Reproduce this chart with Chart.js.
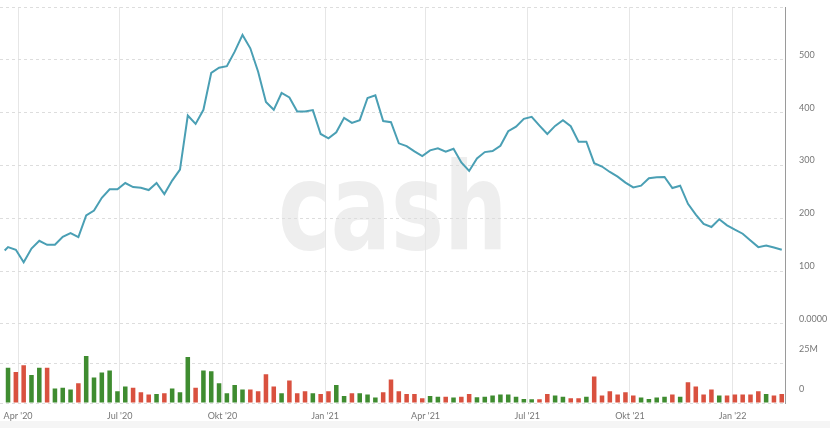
<!DOCTYPE html>
<html><head><meta charset="utf-8">
<script src="https://cdn.jsdelivr.net/npm/chart.js@4.4.1/dist/chart.umd.min.js"></script>
<style>
html,body{margin:0;padding:0;background:#fff;}
#wrap{position:relative;width:830px;height:428px;overflow:hidden;}
#wm{position:absolute;left:278px;top:146px;font-family:"DejaVu Sans";font-weight:bold;font-size:122px;line-height:1;color:#eeeeee;transform-origin:0 0;transform:scaleX(0.73);white-space:nowrap;}
#strip{position:absolute;left:0;top:421px;width:830px;height:7px;background:#f5f5f5;}
canvas{position:absolute;left:0;top:0;}
</style></head><body>
<div id="wrap"><div id="wm">cash</div><div id="strip"></div><canvas id="c" width="830" height="428"></canvas></div>
<script>
// weekly dates (Mondays)
const weeks = ['2020-03-23','2020-03-30','2020-04-06','2020-04-13','2020-04-20','2020-04-27','2020-05-04','2020-05-11','2020-05-18','2020-05-25',
'2020-06-01','2020-06-08','2020-06-15','2020-06-22','2020-06-29','2020-07-06','2020-07-13','2020-07-20','2020-07-27','2020-08-03',
'2020-08-10','2020-08-17','2020-08-24','2020-08-31','2020-09-07','2020-09-14','2020-09-21','2020-09-28','2020-10-05','2020-10-12',
'2020-10-19','2020-10-26','2020-11-02','2020-11-09','2020-11-16','2020-11-23','2020-11-30','2020-12-07','2020-12-14','2020-12-21',
'2020-12-28','2021-01-04','2021-01-11','2021-01-18','2021-01-25','2021-02-01','2021-02-08','2021-02-15','2021-02-22','2021-03-01',
'2021-03-08','2021-03-15','2021-03-22','2021-03-29','2021-04-05','2021-04-12','2021-04-19','2021-04-26','2021-05-03','2021-05-10',
'2021-05-17','2021-05-24','2021-05-31','2021-06-07','2021-06-14','2021-06-21','2021-06-28','2021-07-05','2021-07-12','2021-07-19',
'2021-07-26','2021-08-02','2021-08-09','2021-08-16','2021-08-23','2021-08-30','2021-09-06','2021-09-13','2021-09-20','2021-09-27',
'2021-10-04','2021-10-11','2021-10-18','2021-10-25','2021-11-01','2021-11-08','2021-11-15','2021-11-22','2021-11-29','2021-12-06',
'2021-12-13','2021-12-20','2021-12-27','2022-01-03','2022-01-10','2022-01-17','2022-01-24','2022-01-31','2022-02-07','2022-02-14'];
const firstLineDate = '2020-03-20';
const firstLinePrice = 138.7;
const prices = [145.2,140.1,116.6,142.6,157.3,149.6,149.6,164.9,171.9,164.3,
205.5,214.5,238.7,254.6,254.6,266.6,259,257.8,253.3,266.6,
245.6,271.2,292.1,394.5,378.6,405.3,475.3,484.9,488,515.4,
547.2,521.8,477.3,420,405.3,437.2,428.8,402.1,402.1,404.8,
359.5,351.3,362.8,390.1,380.5,385.7,427.7,432.6,384,381.9,
341.8,336.6,326.5,317.6,328.4,332.2,325.8,331.5,305.5,289.5,
313.2,325.2,327.1,337.2,364.7,373.5,388.2,392,375.4,359.5,
374.8,385.7,374.2,344.8,344.8,304.2,297.9,287.6,278.8,267.4,
258.4,261.6,275.6,277.5,278.1,257.1,261.6,227.3,206.9,189.1,
183.4,197.9,186.5,178.2,170.6,157.8,145.2,148.3,144.5,140.1];
// weekly volume in millions
const volumes = [22.2,19.5,23.9,17.6,22.2,22.2,9.1,9.7,8.5,12.5,
29.6,16.1,19.2,20.5,7.4,10.4,9.7,6.8,5.3,5.7,
6.1,9.1,6.8,29.0,9.7,20.5,20.1,12.5,6.1,11.4,
8.5,8.5,7.4,18.2,10.4,6.1,14.2,6.1,7.4,6.1,
5.7,7.4,11.4,4.4,6.1,6.1,5.3,3.4,6.8,14.8,
7.4,5.7,5.7,3.0,4.4,4.0,4.0,3.4,4.0,5.7,
3.6,4.0,4.7,5.3,5.3,4.0,2.5,2.3,2.3,5.7,
4.7,4.0,3.0,3.0,4.0,16.7,4.7,7.4,5.3,6.8,
4.7,3.4,2.5,3.4,4.0,5.3,4.0,13.1,10.4,5.3,
8.5,4.7,4.7,5.3,5.3,5.3,7.4,5.7,4.7,5.7];
// 1 = up week (green), 0 = down week (red)
const upWeek = [1,0,0,1,1,0,1,1,1,0,
1,1,1,1,1,1,0,0,0,1,
0,1,1,1,0,1,1,1,1,1,
1,0,0,0,0,1,0,0,0,1,
0,0,1,1,0,1,1,1,0,0,
0,0,0,0,1,1,0,1,0,0,
1,1,1,1,1,1,1,1,0,0,
1,1,0,0,1,0,0,0,0,0,
0,1,1,1,1,0,1,0,0,0,
0,1,0,0,0,0,0,1,0,0];
const tickDates = ['2020-04-01','2020-07-01','2020-10-01','2021-01-01','2021-04-01','2021-07-01','2021-10-01','2022-01-01'];
const tickLabels = ["Apr '20","Jul '20","Okt '20","Jan '21","Apr '21","Jul '21","Okt '21","Jan '22"];
const priceTicks = [0,100,200,300,400,500,600];
const priceTickLabels = ['0.0000','100','200','300','400','500',''];
const volumeTicks = [0,25];
const volumeTickLabels = ['0','25M'];

const base = Date.UTC(2020,3,1);
const day = s => { const p = s.split('-').map(Number); return (Date.UTC(p[0],p[1]-1,p[2]) - base) / 864e5; };
const tickDays = tickDates.map(day);

const lineData = [{x: day(firstLineDate), y: firstLinePrice}].concat(weeks.map((w,i)=>({x: day(w), y: prices[i]})));
const barData = weeks.map((w,i)=>({x: day(w), y: volumes[i]}));
const GREEN = '#3f8c30', RED = '#d9513f';
const barColors = upWeek.map(u => u ? GREEN : RED);

const labelFont = {family: 'Lato', size: 9};
const labelColor = '#777';
const fitY = s => { s.width = 45; s.paddingTop = 0; s.paddingBottom = 0; };

new Chart(document.getElementById('c'), {
  type: 'bar',
  data: {
    datasets: [
      {type: 'line', data: lineData, xAxisID: 'x', yAxisID: 'yP', borderColor: '#4a9fb4', borderWidth: 2, pointRadius: 0, tension: 0, fill: false},
      {type: 'bar', data: barData, xAxisID: 'x', yAxisID: 'yV', backgroundColor: barColors, borderWidth: 0, barPercentage: 0.58, categoryPercentage: 1}
    ]
  },
  options: {
    responsive: false,
    animation: false,
    events: [],
    layout: {padding: {top: 7, bottom: 6, left: 0, right: 0}},
    plugins: {legend: {display: false}, tooltip: {enabled: false}},
    scales: {
      x: {
        type: 'linear', position: 'bottom', offset: false,
        min: -16.2, max: 686.9,
        afterBuildTicks: s => { s.ticks = tickDays.map(v => ({value: v})); },
        afterFit: s => { s.paddingLeft = 0; s.paddingRight = 0; s.height = 19; },
        grid: {color: '#e6e6e6', drawTicks: false, offset: false},
        border: {display: false},
        ticks: {
          autoSkip: false, maxRotation: 0, padding: 8, font: labelFont, color: labelColor,
          callback: v => { const i = tickDays.indexOf(v); return i >= 0 ? tickLabels[i] : ''; }
        }
      },
      yP: {
        type: 'linear', position: 'right', stack: 'main', stackWeight: 4,
        min: 0, max: 600,
        afterBuildTicks: s => { s.ticks = priceTicks.map(v => ({value: v})); },
        afterFit: fitY,
        grid: {color: '#dddddd', drawTicks: false},
        border: {display: true, color: '#9a9a9a', dash: [3, 3]},
        ticks: {
          padding: 14, labelOffset: -5, font: labelFont, color: labelColor,
          callback: v => { const i = priceTicks.indexOf(v); return i >= 0 ? priceTickLabels[i] : ''; }
        }
      },
      yV: {
        type: 'linear', position: 'right', stack: 'main', stackWeight: 1,
        min: 0, max: 50,
        afterBuildTicks: s => { s.ticks = volumeTicks.map(v => ({value: v})); },
        afterFit: fitY,
        grid: {color: '#dddddd', drawTicks: false},
        border: {display: true, color: '#9a9a9a', dash: [3, 3]},
        ticks: {
          padding: 14, labelOffset: -14, font: labelFont, color: labelColor,
          callback: v => { const i = volumeTicks.indexOf(v); return i >= 0 ? volumeTickLabels[i] : ''; }
        }
      }
    }
  }
});
</script>
</body></html>
